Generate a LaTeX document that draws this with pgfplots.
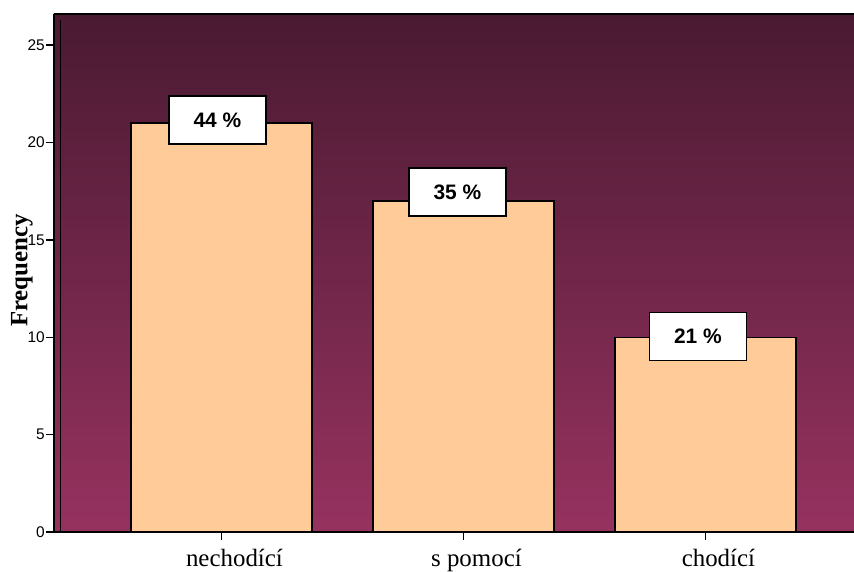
\documentclass[border=0pt]{standalone}
\usepackage{pgfplots}
\pgfplotsset{compat=1.18}
\usepackage{fontspec}
\setmainfont{Liberation Serif}
\setsansfont{Liberation Sans}
\definecolor{bgtop}{HTML}{4A1A32}
\definecolor{bgbot}{HTML}{96325F}
\definecolor{barfill}{HTML}{FFCC99}
\begin{document}
\begin{tikzpicture}
\begin{axis}[
  scale only axis,
  width=800bp, height=518bp,
  xmin=-0.692, xmax=2.614,
  ymin=0, ymax=26.6,
  axis x line*=bottom, axis y line*=left,
  axis line style={-, line width=1.5bp},
  axis background/.style={shade, top color=bgtop, bottom color=bgbot},
  xtick={0,1,2},
  xticklabels={nechodící, s pomocí, chodící},
  ytick={0,5,10,15,20,25},
  tick align=outside,
  major tick length=8bp,
  tick style={line width=1.5bp, black},
  /pgf/number format/assume math mode=true,
  yticklabel style={font=\sffamily\fontsize{15.5}{17}\selectfont, inner sep=1bp},
  xticklabel style={font=\fontsize{25}{27}\selectfont, inner sep=2bp, yshift=-7bp, xshift=13bp},
  ylabel={Frequency},
  every axis y label/.style={at={(axis description cs:0,0.505)}, xshift=-32bp, rotate=90, anchor=center, font=\bfseries\fontsize{25}{27}\selectfont},
  ybar, bar width=181bp,
  point meta=explicit symbolic,
  nodes near coords,
  visualization depends on={\thisrow{dx} \as \dx},
  visualization depends on={\thisrow{dy} \as \dy},
  every node near coord/.style={anchor=center, xshift=\dx*1bp, yshift=\dy*1bp, fill=white, draw=black, line width=1.2bp, minimum width=97bp, minimum height=48bp, font=\sffamily\bfseries\fontsize{21}{23}\selectfont, text=black},
]
\addplot[fill=barfill, draw=black, line width=1.3bp] table[col sep=comma, row sep=\\, x=x, y=y, meta=lab] {
x,y,dx,dy,lab\\
0,21,-4,3,44 \%\\
1,17,-6,9,35 \%\\
2,10,-7.5,1,21 \%\\
};
\draw[black, line width=0.9bp] ([xshift=6bp]rel axis cs:0,0) -- ([xshift=6bp]rel axis cs:0,0.988);
\draw[black, line width=1.5bp] (rel axis cs:0,1) -- (rel axis cs:1,1);
\end{axis}
\pgfresetboundingbox
\path[use as bounding box] ([xshift=-54bp,yshift=-40bp]current axis.south west) rectangle ([xshift=800bp,yshift=532bp]current axis.south west);
\end{tikzpicture}
\end{document}
